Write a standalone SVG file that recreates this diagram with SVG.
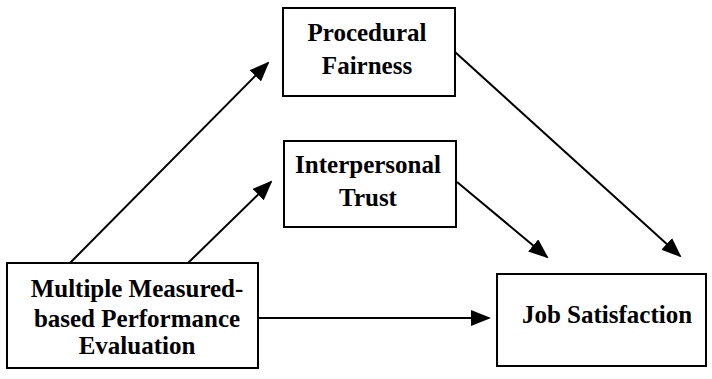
<svg xmlns="http://www.w3.org/2000/svg" width="712" height="379" viewBox="0 0 712 379">
<defs>
<marker id="ah" viewBox="0 0 10 10" refX="9" refY="5" markerWidth="20" markerHeight="16" markerUnits="userSpaceOnUse" orient="auto" preserveAspectRatio="none">
<path d="M0,0 L10,5 L0,10 Z" fill="#000"/>
</marker>
</defs>
<rect width="712" height="379" fill="#fff"/>
<g id="connectors" stroke="#000" stroke-width="2" fill="none" marker-end="url(#ah)">
<line x1="70" y1="263" x2="268" y2="63"/>
<line x1="188" y1="263" x2="271" y2="182"/>
<line x1="455" y1="52" x2="680" y2="256"/>
<line x1="457" y1="182" x2="547" y2="257"/>
<line x1="258" y1="318" x2="489" y2="318"/>
</g>
<g id="node-procedural">
<rect x="283" y="8" width="172" height="88" fill="#fff" stroke="#000" stroke-width="2"/>
<text x="367" y="41" style="font-family:'Times New Roman','Liberation Serif',serif;font-weight:bold;font-size:25px" text-anchor="middle">Procedural</text>
<text x="367" y="74" style="font-family:'Times New Roman','Liberation Serif',serif;font-weight:bold;font-size:25px" text-anchor="middle">Fairness</text>
</g>
<g id="node-trust">
<rect x="284" y="141" width="172" height="86" fill="#fff" stroke="#000" stroke-width="2"/>
<text x="368" y="173" style="font-family:'Times New Roman','Liberation Serif',serif;font-weight:bold;font-size:25px" text-anchor="middle">Interpersonal</text>
<text x="368" y="206" style="font-family:'Times New Roman','Liberation Serif',serif;font-weight:bold;font-size:25px" text-anchor="middle">Trust</text>
</g>
<g id="node-mmpe">
<rect x="7" y="263" width="251" height="105" fill="#fff" stroke="#000" stroke-width="2"/>
<text x="137" y="297" style="font-family:'Times New Roman','Liberation Serif',serif;font-weight:bold;font-size:25px" text-anchor="middle">Multiple Measured-</text>
<text x="137" y="327" style="font-family:'Times New Roman','Liberation Serif',serif;font-weight:bold;font-size:25px" text-anchor="middle">based Performance</text>
<text x="137" y="354" style="font-family:'Times New Roman','Liberation Serif',serif;font-weight:bold;font-size:25px" text-anchor="middle">Evaluation</text>
</g>
<g id="node-job">
<rect x="497" y="274" width="209" height="92" fill="#fff" stroke="#000" stroke-width="2"/>
<text x="607" y="323" style="font-family:'Times New Roman','Liberation Serif',serif;font-weight:bold;font-size:25px" text-anchor="middle">Job Satisfaction</text>
</g>
</svg>
